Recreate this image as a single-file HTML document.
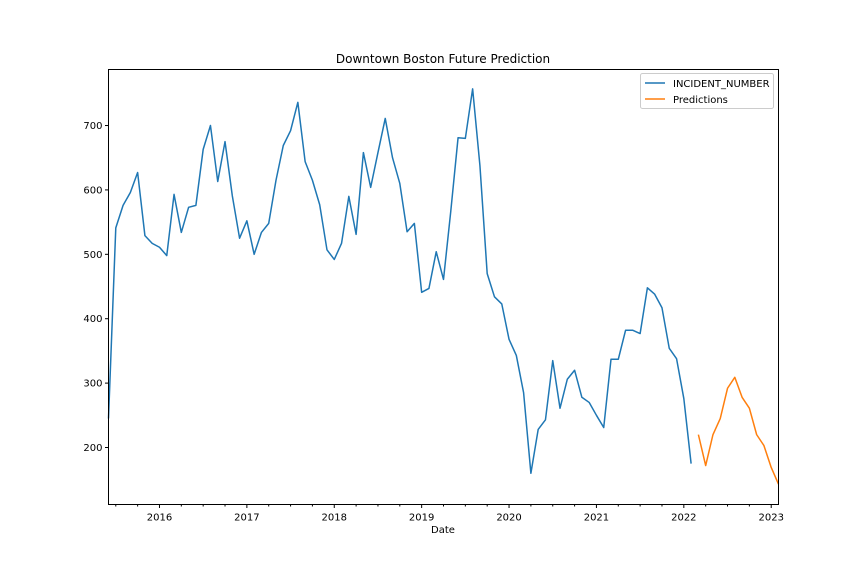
<!DOCTYPE html>
<html><head><meta charset="utf-8"><style>
body{margin:0;background:#fff}
svg{display:block;font-family:"DejaVu Sans","Liberation Sans",sans-serif}
</style></head><body>
<svg id="chart" width="864" height="576" viewBox="0 0 864 576" xmlns="http://www.w3.org/2000/svg">
<rect width="864" height="576" fill="#fff"/>
<text x="443" y="63" font-size="12" text-anchor="middle" fill="#000">Downtown Boston Future Prediction</text>
<g id="grid"></g>
<g id="series"></g>
<rect x="108.5" y="69.5" width="670" height="435" fill="none" stroke="#000" stroke-width="1"/>
<g id="axes"></g>
<text x="443" y="533" font-size="10" text-anchor="middle" fill="#000">Date</text>
<g>
<rect x="640.5" y="73.5" width="133" height="35" rx="2" fill="#fff" stroke="#ccc"/>
<line x1="645" y1="83" x2="665" y2="83" stroke="#1f77b4" stroke-width="1.5"/>
<text x="673" y="87" font-size="10" fill="#000">INCIDENT_NUMBER</text>
<line x1="645" y1="99" x2="665" y2="99" stroke="#ff7f0e" stroke-width="1.5"/>
<text x="673" y="103" font-size="10" fill="#000">Predictions</text>
</g>
</svg>
<script>
// months indexed from Jun 2015 (index 0)
const actualValues = [245,541,576,596,627,529,517,511,498,593,534,573,576,663,700,613,675,591,525,552,500,534,548,615,669,692,736,644,615,577,507,492,517,590,531,658,604,658,711,650,610,535,548,441,447,504,461,567,681,680,757,638,470,434,423,368,343,285,160,228,243,335,261,306,320,278,270,250,231,337,337,382,382,377,448,438,417,354,338,276,175];
const predictionStart = 81;
const predictionValues = [220,172,220,245,292,309,278,261,220,203,169,143];
const yTicks = [200,300,400,500,600,700];
const yearLabels = ["2016","2017","2018","2019","2020","2021","2022","2023"];

const L=108.5,R=778.5,T=69.5,B=504.5;
const xMin=0,xMax=92,yMin=111.5,yMax=787;
const xs=i=>L+(i-xMin)/(xMax-xMin)*(R-L);
const ys=v=>B-(v-yMin)/(yMax-yMin)*(B-T);
const NS="http://www.w3.org/2000/svg";
const axes=document.getElementById('axes'), series=document.getElementById('series');
function mk(tag,attrs,parent){const e=document.createElementNS(NS,tag);for(const k in attrs)e.setAttribute(k,attrs[k]);parent.appendChild(e);return e;}

yTicks.forEach(v=>{
  const y=ys(v);
  const t=mk('line',{x1:L-3.5,x2:L,y1:y,y2:y,stroke:'#000'},axes);
  
  
  const tx=mk('text',{x:L-6,y:y+3.5,'font-size':10,'text-anchor':'end',fill:'#000'},axes);
  tx.textContent=v;
  
  
});
// minor ticks quarterly (Jul, Oct, Jan, Apr) — index 1 = Jul 2015
for(let i=1;i<=xMax;i+=3){
  const x=xs(i);
  const isYear=((i-7)%12===0);
  const t=mk('line',{x1:x,x2:x,y1:B,y2:B+(isYear?3.5:2),stroke:'#000'},axes);
  
  
}
yearLabels.forEach((lab,k)=>{
  const x=xs(7+12*k);
  const tx=mk('text',{x:x,y:B+16,'font-size':10,'text-anchor':'middle',fill:'#000'},axes);
  tx.textContent=lab;
  
  
});

const p1=mk('polyline',{points:actualValues.map((v,i)=>xs(i)+','+ys(v)).join(' '),fill:'none',stroke:'#1f77b4','stroke-width':1.5,'stroke-linejoin':'round'},series);


const p2=mk('polyline',{points:predictionValues.map((v,i)=>xs(predictionStart+i)+','+ys(v)).join(' '),fill:'none',stroke:'#ff7f0e','stroke-width':1.5,'stroke-linejoin':'round'},series);


</script>
</body></html>
